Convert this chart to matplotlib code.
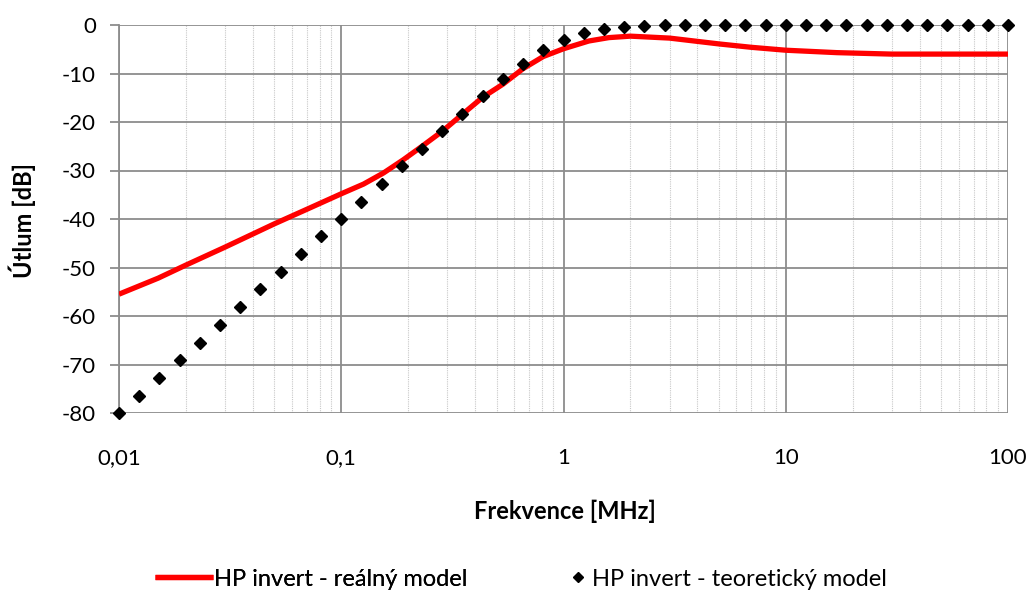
import numpy as np
import matplotlib.pyplot as plt
from matplotlib.ticker import LogLocator, NullFormatter

plt.rcParams['font.family'] = ['Lato', 'DejaVu Sans']

# reálný model
f_real = [0.01, 0.015, 0.02, 0.03, 0.05, 0.07, 0.1, 0.126, 0.155, 0.19,
          0.231, 0.285, 0.351, 0.433, 0.534, 0.658, 0.811, 1.0, 1.3, 1.6,
          2.0, 3.0, 5.0, 7.0, 10.0, 17.0, 30.0, 50.0, 100.0]
db_real = [-55.5, -52.2, -49.5, -45.8, -41.0, -38.0, -34.8, -32.8, -30.5,
           -27.8, -25.0, -21.9, -18.4, -14.9, -12.2, -9.0, -6.5, -4.9, -3.3,
           -2.6, -2.3, -2.7, -3.9, -4.6, -5.2, -5.7, -6.0, -6.0, -6.0]

# teoretický model - 11 bodů na dekádu
f_teor = [10 ** (-2 + k / 11) for k in range(45)]
db_teor = [-80.0, -76.4, -72.7, -69.1, -65.5, -61.8, -58.2, -54.5, -50.9,
           -47.3, -43.6, -40.0, -36.4, -32.7, -29.1, -25.5, -21.9, -18.3,
           -14.7, -11.2, -8.0, -5.2, -3.0, -1.6, -0.8, -0.35, -0.15, -0.07,
           -0.03, 0, 0, 0, 0, 0, 0, 0, 0, 0, 0, 0, 0, 0, 0, 0, 0]

xticks = [0.01, 0.1, 1, 10, 100]
xlabels = ['0,01', '0,1', '1', '10', '100']
yticks = list(range(-80, 1, 10))

fig = plt.figure(figsize=(10.34, 5.95), dpi=100)
ax = fig.add_axes([119 / 1034, 1 - 413 / 595, 889 / 1034, 388 / 595])

l1, = ax.plot(f_real, db_real, color='#ff0000', lw=3.8, solid_capstyle='butt',
              label='HP invert - reálný model', zorder=3)
l2, = ax.plot(f_teor, db_teor, ls='none', marker='D', ms=6.5, color='black',
              label='HP invert - teoretický model', zorder=4, clip_on=False)

ax.set_xscale('log')
ax.set_xlim(0.01, 100)
ax.set_ylim(-80, 0)
ax.set_xticks(xticks)
ax.set_xticklabels(xlabels)
ax.xaxis.set_minor_locator(LogLocator(base=10, subs=np.arange(2, 10)))
ax.xaxis.set_minor_formatter(NullFormatter())
ax.set_yticks(yticks)
ax.set_yticklabels([str(v) for v in yticks])

ax.grid(True, which='major', color='#8c8c8c', lw=1.3)
ax.grid(True, which='minor', axis='x', color='#c8c8c8', lw=0.8, ls=(0, (1, 1)))
ax.set_axisbelow(True)

for s in ['top', 'right', 'bottom']:
    ax.spines[s].set_visible(False)
ax.spines['left'].set_color('#8c8c8c')
ax.spines['left'].set_linewidth(1.3)
ax.tick_params(axis='y', length=6.5, width=1.3, color='#8c8c8c', labelsize=16, pad=10)
ax.tick_params(axis='x', which='both', length=0, labelsize=16, pad=25)

# popisky os
fig.text(565 / 1034, 1 - 511 / 595, 'Frekvence [MHz]', fontsize=17,
         fontweight='bold', ha='center', va='center')
fig.text(22 / 1034, 1 - 221 / 595, 'Útlum [dB]', fontsize=17,
         fontweight='bold', ha='center', va='center', rotation=90)

# legenda - dvě části kvůli rozdílné délce symbolu
leg1 = fig.legend(handles=[l1], loc='center left', bbox_to_anchor=(155 / 1034, 1 - 579 / 595),
                  frameon=False, fontsize=17, handlelength=2.45, handletextpad=0.05,
                  borderpad=0, borderaxespad=0)
fig.legend(handles=[l2], loc='center left', bbox_to_anchor=(566 / 1034, 1 - 579 / 595),
           frameon=False, fontsize=17, handlelength=1.0, handletextpad=0.1,
           borderpad=0, borderaxespad=0, markerscale=0.8)
fig.add_artist(leg1)

fig.savefig('out.png', dpi=100)
